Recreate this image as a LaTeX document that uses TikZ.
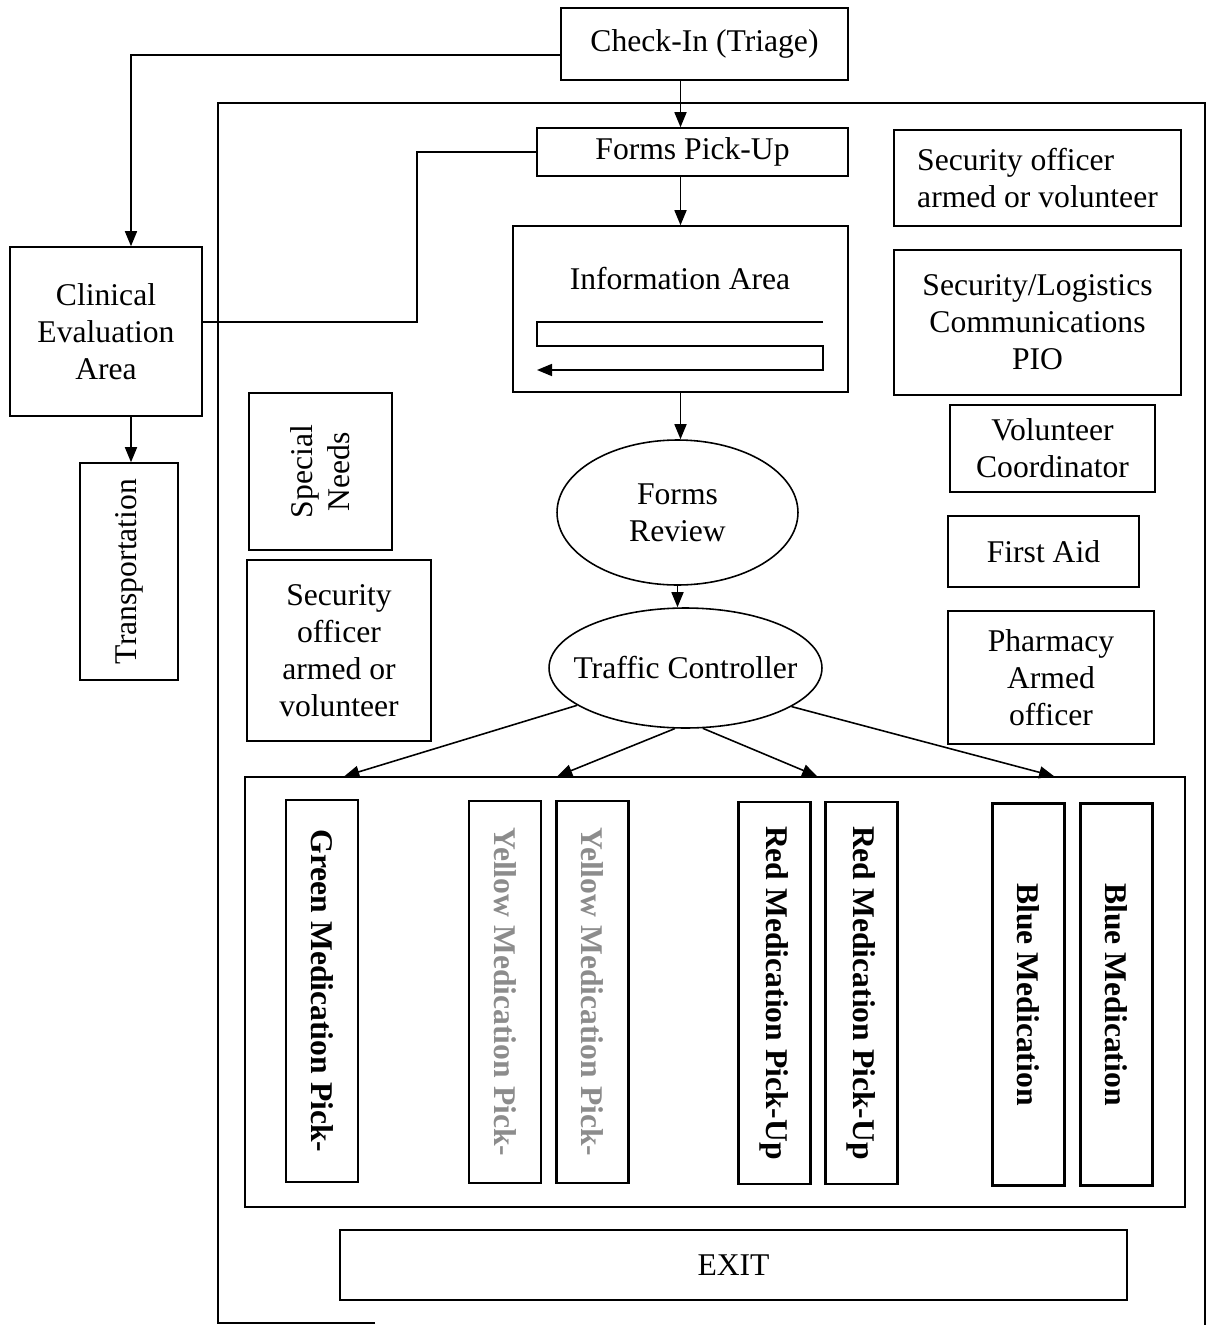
\documentclass[tikz,border=0pt]{standalone}
\usepackage{fontspec}
\setmainfont{Liberation Serif}
\usetikzlibrary{arrows.meta,shapes.geometric}
\tikzset{
  box/.style={draw, line width=0.9pt, align=center, inner sep=2pt},
  oval/.style={draw, ellipse, line width=0.9pt, align=center, inner sep=0pt},
  bar/.style={draw, line width=1.2pt, rotate=-90, minimum width=7.64cm,
    minimum height=1.44cm, font=\fontsize{18}{21}\selectfont\bfseries},
  arr/.style={-{Triangle[length=0.3cm,width=0.24cm]}, line width=0.9pt}
}
\begin{document}
\begin{tikzpicture}[x=0.02cm, y=-0.02cm, font=\fontsize{18}{21}\selectfont]
  \useasboundingbox (0,0) rectangle (1207,1325);
  %outer frame of the site
  \draw[line width=0.9pt] (375,1323) -- (218,1323) -- (218,103)
        -- (1205,103) -- (1205,1325);
  %main flow
  \node[box, minimum width=5.74cm, minimum height=1.44cm] (checkin) at (704.5,44) {Check-In (Triage)};
  \node[box, minimum width=6.22cm, minimum height=0.96cm] (formspick) at (692.5,152) {Forms Pick-Up};
  \node[box, minimum width=6.70cm, minimum height=3.32cm] (info) at (680.5,309) {};
  \node (infotxt) at (680,279) {Information Area};
  \draw[arr] (823,322) -- (537,322) -- (537,346) -- (823,346) -- (823,370) -- (537,370);
  \node[oval, minimum width=4.82cm, minimum height=2.90cm] (review) at (677.5,512.5) {Forms\\Review};
  \node[oval, inner xsep=-0.35cm, minimum width=5.46cm, minimum height=2.40cm] (traffic) at (685.5,668) {Traffic Controller};
  \draw[arr] (checkin.south -| info.north) -- (formspick.north -| info.north);
  \draw[arr] (formspick.south -| info.north) -- (info.north);
  \draw[arr] (info.south) -- (info.south |- review.north);
  \draw[arr] (review.south) -- (review.south |- traffic.north);
  %clinical side
  \node[box, minimum width=3.84cm, minimum height=3.38cm] (clinical) at (106,331.5) {Clinical\\Evaluation\\Area};
  \node[box, rotate=90, minimum width=4.34cm, minimum height=1.96cm] (transport) at (129,571.5) {Transportation};
  \draw[arr] ([yshift=-0.22cm]checkin.west) -| ([xshift=0.5cm]clinical.north);
  \draw[line width=0.9pt] ([yshift=0.19cm]clinical.east) -| ([xshift=-2.38cm]formspick.west) -- (formspick.west);
  \draw[arr] ([xshift=0.5cm]clinical.south) -- ([xshift=0.5cm]clinical.south |- transport.east);
  %stations inside
  \node[box, rotate=90, minimum width=3.14cm, minimum height=2.86cm] (special) at (320.5,471.5) {Special\\Needs};
  \node[box, minimum width=3.68cm, minimum height=3.62cm] (secleft) at (339,650.5) {Security\\officer\\armed or\\volunteer};
  \node[box, align=left, minimum width=5.74cm, minimum height=1.92cm] (secright) at (1037.5,178) {Security officer\\armed or volunteer};
  \node[box, minimum width=5.74cm, minimum height=2.90cm] (logistics) at (1037.5,322.5) {Security/Logistics\\Communications\\PIO};
  \node[box, minimum width=4.10cm, minimum height=1.74cm] (volunteer) at (1052.5,448.5) {Volunteer\\Coordinator};
  \node[box, minimum width=3.82cm, minimum height=1.42cm] (firstaid) at (1043.5,551.5) {First Aid};
  \node[box, minimum width=4.12cm, minimum height=2.66cm] (pharmacy) at (1051,677.5) {Pharmacy\\Armed\\officer};
  %medication pick-up
  \node[draw, line width=0.9pt, minimum width=18.8cm, minimum height=8.6cm] (pickup) at (715,992) {};
  \node[bar] (green) at (322,991) {Green Medication Pick-};
  \node[bar, text=black!45] (yellowa) at (505,992) {Yellow Medication Pick-};
  \node[bar, text=black!45] (yellowb) at (592.5,992) {Yellow Medication Pick-};
  \node[bar] (reda) at (774.5,993) {Red Medication Pick-Up};
  \node[bar] (redb) at (861.5,993) {Red Medication Pick-Up};
  \node[bar] (bluea) at (1028.5,994.5) {Blue Medication};
  \node[bar] (blueb) at (1116.5,994.5) {Blue Medication};
  \draw[arr] (traffic.199) -- ([xshift=2cm]pickup.north west);
  \draw[arr] (traffic.260) -- ([xshift=6.26cm]pickup.north west);
  \draw[arr] (traffic.286) -- ([xshift=11.46cm]pickup.north west);
  \draw[arr] (traffic.340) -- ([xshift=16.2cm]pickup.north west);
  \node[box, minimum width=15.74cm, minimum height=1.40cm] (exit) at (733.5,1265) {EXIT};
\end{tikzpicture}
\end{document}
